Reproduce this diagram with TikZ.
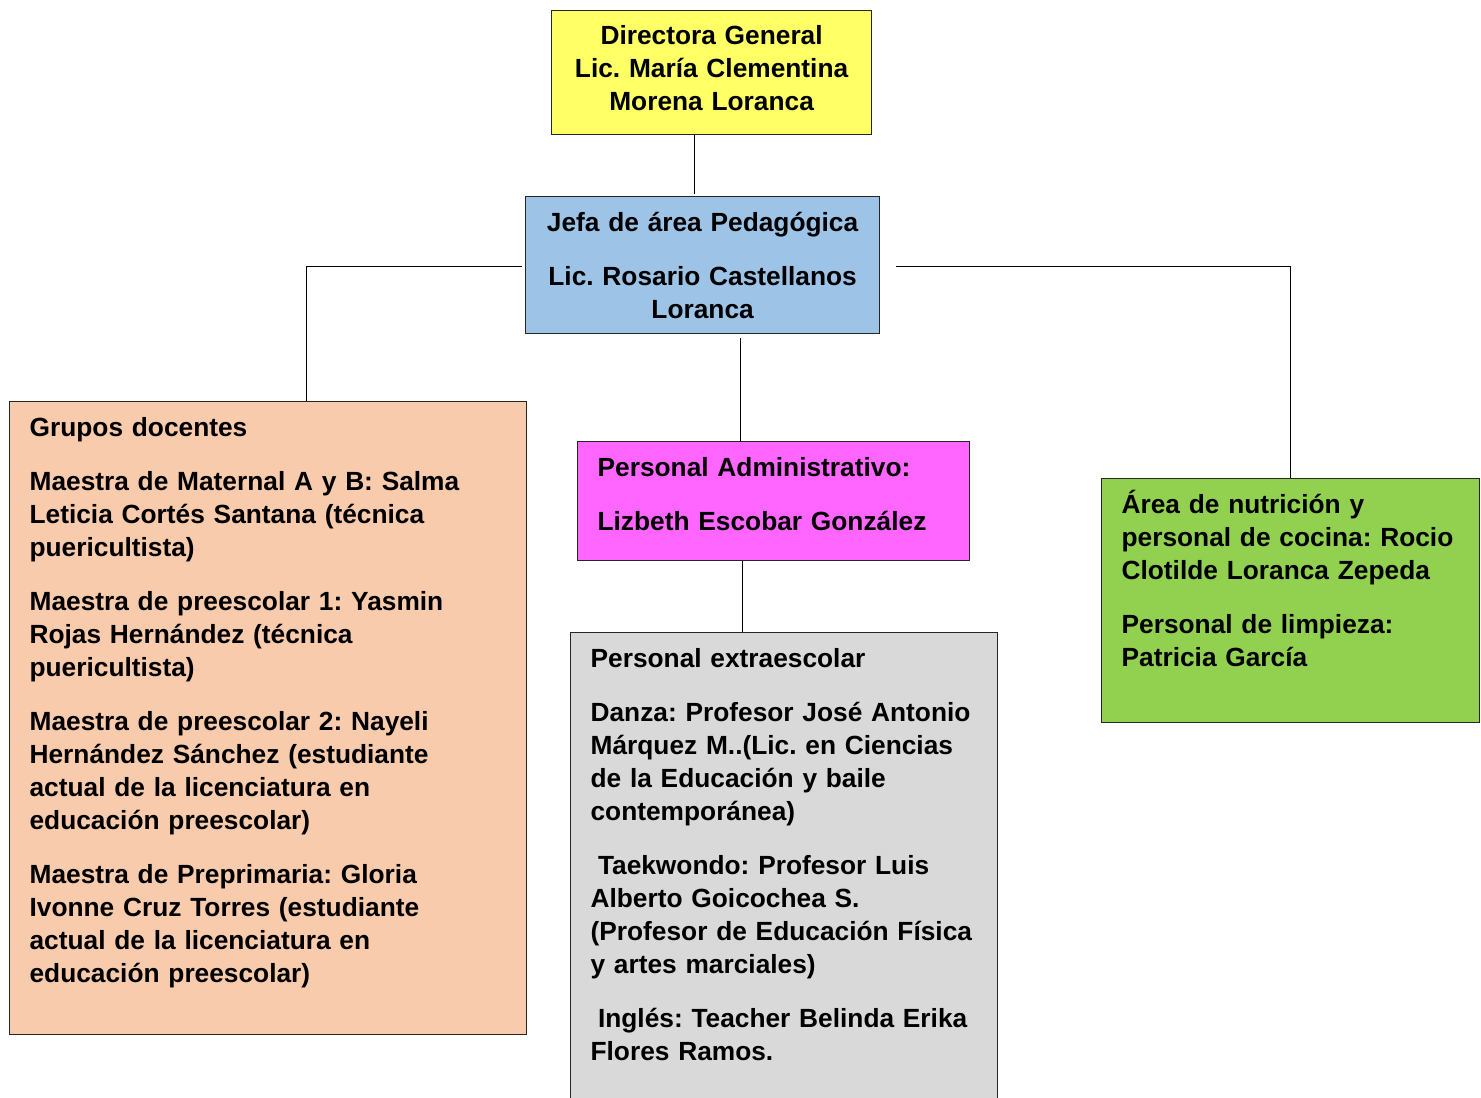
\documentclass[tikz,border=0pt]{standalone}
\usepackage{fontspec}
\setmainfont{Liberation Sans}
\definecolor{amarillo}{HTML}{FFFF66}
\definecolor{azul}{HTML}{9DC3E6}
\definecolor{durazno}{HTML}{F8CBAD}
\definecolor{rosa}{HTML}{FF66FF}
\definecolor{gris}{HTML}{D9D9D9}
\definecolor{verde}{HTML}{92D050}
\frenchspacing
\hyphenpenalty=10000
\begin{document}
\begin{tikzpicture}[x=1pt,y=-1pt,
  caja/.style={draw=black!85,line width=1.2pt,anchor=north west,inner xsep=20pt,inner ysep=0pt,
    align=left,text height=35pt,font=\fontsize{26.3}{33}\selectfont\bfseries\frenchspacing},
  linea/.style={line width=0.9pt}]
  \useasboundingbox (0,0) rectangle (1481,1098);

  \node[caja,fill=amarillo,align=center,inner xsep=10pt,text width=300pt,text height=34pt,text depth=90pt] (dir) at (551,10)
    {Directora General\\ Lic. María Clementina\\ Morena Loranca};
  \node[caja,fill=azul,align=center,inner xsep=10pt,text width=334pt,text depth=102pt] (jefa) at (525,196)
    {Jefa de área Pedagógica\\[21pt] Lic. Rosario Castellanos\\ Loranca};

  \node[caja,fill=durazno,text width=477pt,text depth=598pt] (grupos) at (9,401)
    {Grupos docentes\\[21pt]
     Maestra de Maternal A y B: Salma\\ Leticia Cortés Santana (técnica\\ puericultista)\\[21pt]
     Maestra de preescolar 1: Yasmin\\ Rojas Hernández (técnica\\ puericultista)\\[21pt]
     Maestra de preescolar 2: Nayeli\\ Hernández Sánchez (estudiante\\ actual de la licenciatura en\\ educación preescolar)\\[21pt]
     Maestra de Preprimaria: Gloria\\ Ivonne Cruz Torres (estudiante\\ actual de la licenciatura en\\ educación preescolar)};
  \node[caja,fill=rosa,text width=352pt,text depth=84pt] (admin) at (577,441)
    {Personal Administrativo:\\[21pt] Lizbeth Escobar González};
  \node[caja,fill=gris,text width=387pt,text depth=445pt] (extra) at (570,632)
    {Personal extraescolar\\[21pt]
     Danza: Profesor José Antonio\\ Márquez M..(Lic. en Ciencias\\ de la Educación y baile\\ contemporánea)\\[21pt]
     \hspace*{7.4pt}Taekwondo: Profesor Luis\\ Alberto Goicochea S.\\ (Profesor de Educación Física\\ y artes marciales)\\[21pt]
     \hspace*{7.4pt}Inglés: Teacher Belinda Erika\\ Flores Ramos.};
  \node[caja,fill=verde,text width=338pt,text depth=209pt] (nutri) at (1101,478)
    {Área de nutrición y\\ personal de cocina: Rocio\\ Clotilde Loranca Zepeda\\[21pt]
     Personal de limpieza:\\ Patricia García};

  % lineas de mando
  \draw[linea] ([xshift=-17pt]dir.south) -- ([xshift=-17pt,yshift=2pt]dir.south |- jefa.north);
  \draw[linea] ([xshift=-3pt,yshift=-1.5pt]jefa.west) -| ([xshift=38.5pt]grupos.north);
  \draw[linea] ([xshift=16pt,yshift=-1.5pt]jefa.east) -| (nutri.north);
  \draw[linea] ([xshift=38pt,yshift=-4pt]jefa.south) -- ([xshift=38pt]jefa.south |- admin.north);
  \draw[linea] ([xshift=-31pt]admin.south) -- ([xshift=-31pt]admin.south |- extra.north);
\end{tikzpicture}
\end{document}
